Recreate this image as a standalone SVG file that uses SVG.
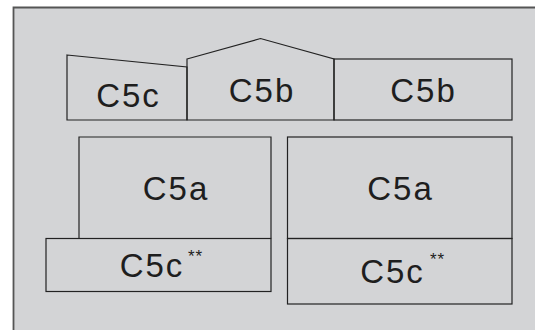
<svg xmlns="http://www.w3.org/2000/svg" width="535" height="330" viewBox="0 0 535 330">
  <style>
    .blk { fill: none; stroke: #222; stroke-width: 1.2; stroke-linejoin: miter; }
    .lbl { font-family: "Liberation Sans", Arial, sans-serif; font-size: 33px; fill: #1e1e1e; text-anchor: middle; letter-spacing: 2px; }
    .sup { font-family: "Liberation Sans", Arial, sans-serif; font-size: 17px; fill: #1e1e1e; letter-spacing: 1px; }
  </style>

  <!-- ground panel -->
  <rect x="13" y="7" width="522" height="323" fill="#d3d4d6"/>
  <path d="M13.5 330 V7.5 H535" fill="none" stroke="#555" stroke-width="1.8"/>

  <!-- upper row -->
  <g id="c5c-top">
    <polygon class="blk" points="67,55 187,67 187,120 67,120"/>
    <text class="lbl" x="128.5" y="106.5">C5c</text>
  </g>
  <g id="c5b-gable">
    <polygon class="blk" points="187,59 260.5,38.5 334,59 334,120 187,120"/>
    <text class="lbl" x="262" y="101.5">C5b</text>
  </g>
  <g id="c5b-right">
    <rect class="blk" x="334" y="59" width="178" height="61"/>
    <text class="lbl" x="423.5" y="101.5">C5b</text>
  </g>

  <!-- lower left pair -->
  <g id="c5a-left">
    <polyline class="blk" points="79,238.5 79,137 271,137 271,238.5"/>
    <text class="lbl" x="176" y="200">C5a</text>
  </g>
  <g id="c5c-left">
    <rect class="blk" x="46" y="238.5" width="225" height="53"/>
    <text class="lbl" x="152" y="276.5">C5c</text>
    <text class="sup" x="188" y="261.5">**</text>
  </g>

  <!-- lower right pair -->
  <g id="c5a-right">
    <rect class="blk" x="287.5" y="137" width="224.5" height="101.5"/>
    <text class="lbl" x="400.5" y="200">C5a</text>
  </g>
  <g id="c5c-right">
    <rect class="blk" x="287.5" y="238.5" width="224.5" height="65.5"/>
    <text class="lbl" x="392.5" y="283">C5c</text>
    <text class="sup" x="430" y="264.5">**</text>
  </g>
</svg>
